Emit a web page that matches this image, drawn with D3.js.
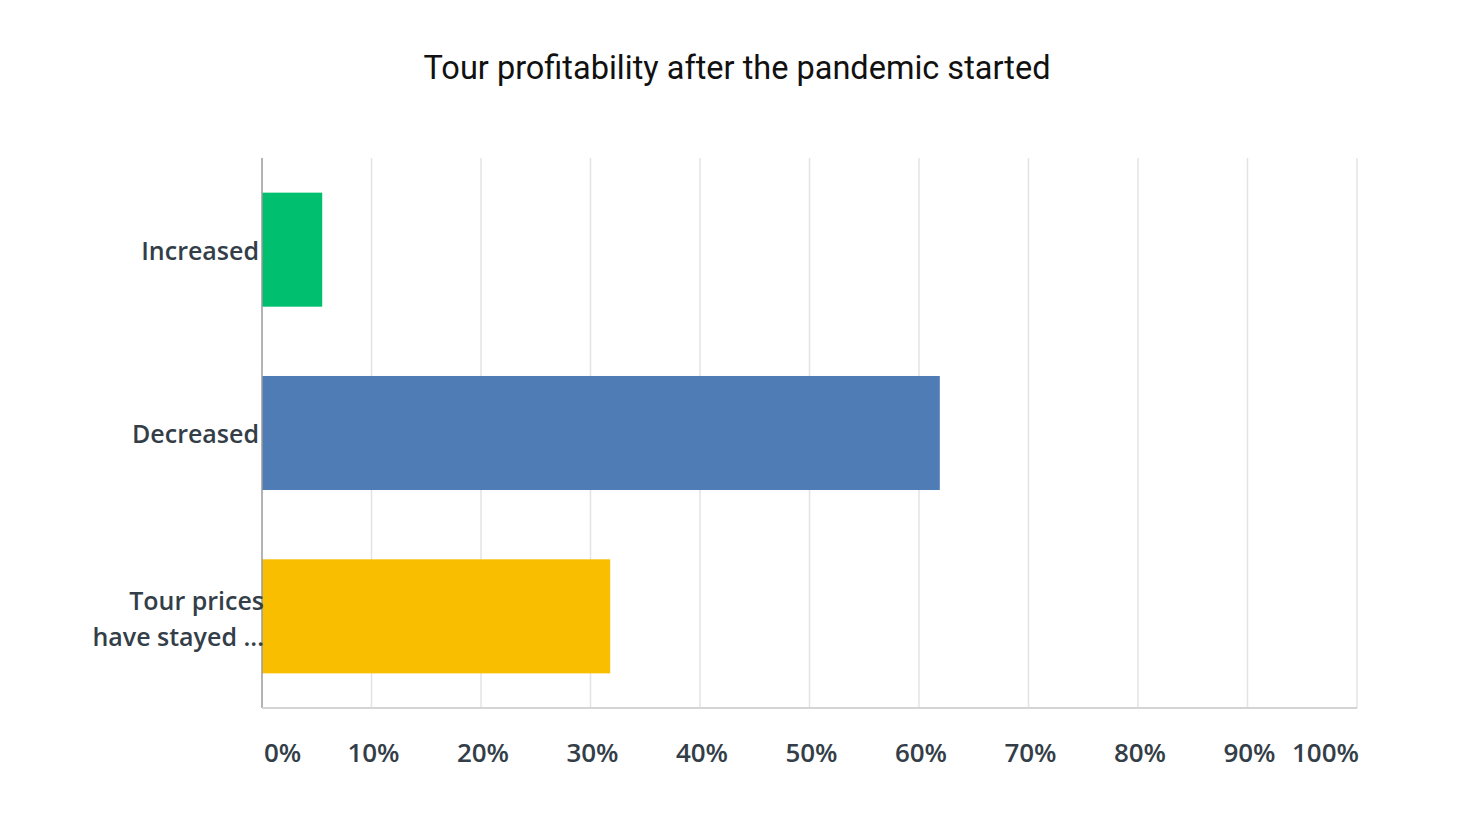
<!DOCTYPE html>
<html>
<head>
<meta charset="utf-8">
<script src="https://cdn.jsdelivr.net/npm/d3@7"></script>
<style>
  body { margin: 0; background: #fff; }
</style>
</head>
<body>
<svg id="chart" width="1470" height="823"></svg>
<script>
const categories = ['Increased', 'Decreased', 'Tour prices have stayed ...'];
const labelLines = [['Increased'], ['Decreased'], ['Tour prices', 'have stayed ...']];
const values = [5.5, 61.9, 31.8];
const colors = ['#00bf6f', '#507cb6', '#f9be00'];
const ticks = [0, 10, 20, 30, 40, 50, 60, 70, 80, 90, 100];

const svg = d3.select('#chart');
const plotLeft = 262, plotRight = 1357, plotTop = 158, plotBottom = 708;

const x = d3.scaleLinear().domain([0, 100]).range([plotLeft, plotRight]);
const y = d3.scaleBand().domain(categories).range([plotTop, plotBottom])
  .paddingInner(0.378).paddingOuter(0.189);

svg.append('text')
  .attr('x', 737).attr('y', 79)
  .attr('text-anchor', 'middle')
  .style('font-family', 'Roboto')
  .style('font-size', '32.5px')
  .style('fill', '#111')
  .text('Tour profitability after the pandemic started');

// gridlines
svg.append('g')
  .selectAll('line')
  .data(ticks.slice(1))
  .join('line')
  .attr('x1', d => x(d)).attr('x2', d => x(d))
  .attr('y1', plotTop).attr('y2', plotBottom)
  .attr('stroke', '#e3e3e3')
  .attr('stroke-width', 1.5);

// bars
svg.append('g')
  .selectAll('rect')
  .data(categories)
  .join('rect')
  .attr('x', x(0))
  .attr('y', d => y(d))
  .attr('width', (d, i) => x(values[i]) - x(0))
  .attr('height', y.bandwidth())
  .attr('fill', (d, i) => colors[i]);

// axis lines
svg.append('line')
  .attr('x1', plotLeft).attr('x2', plotLeft).attr('y1', plotTop).attr('y2', plotBottom)
  .attr('stroke', '#9a9a9a').attr('stroke-width', 1.5);
svg.append('line')
  .attr('x1', plotLeft).attr('x2', plotRight).attr('y1', plotBottom).attr('y2', plotBottom)
  .attr('stroke', '#d4d4d4').attr('stroke-width', 2);

// category labels
const labels = svg.append('g')
  .selectAll('text')
  .data(categories)
  .join('text')
  .attr('text-anchor', 'end')
  .style('font-family', 'Open Sans')
  .style('font-weight', 600)
  .style('font-size', '25px')
  .style('fill', '#333e48');
labels.each(function (d, i) {
  const lines = labelLines[i];
  const cy = y(d) + y.bandwidth() / 2;
  const lh = 36;
  const x0 = lines.length > 1 ? 264 : 259;
  d3.select(this).selectAll('tspan')
    .data(lines)
    .join('tspan')
    .attr('x', x0)
    .attr('y', (t, j) => cy + 10 + (j - (lines.length - 1) / 2) * lh + (lines.length > 1 ? 2 : 0))
    .text(t => t);
});

// tick labels
svg.append('g')
  .selectAll('text')
  .data(ticks)
  .join('text')
  .attr('x', d => x(d) + 2)
  .attr('y', 762)
  .attr('text-anchor', d => d === 0 ? 'start' : d === 100 ? 'end' : 'middle')
  .style('font-family', 'Open Sans')
  .style('font-weight', 600)
  .style('font-size', '26px')
  .style('fill', '#333e48')
  .text(d => d + '%');
</script>
</body>
</html>
